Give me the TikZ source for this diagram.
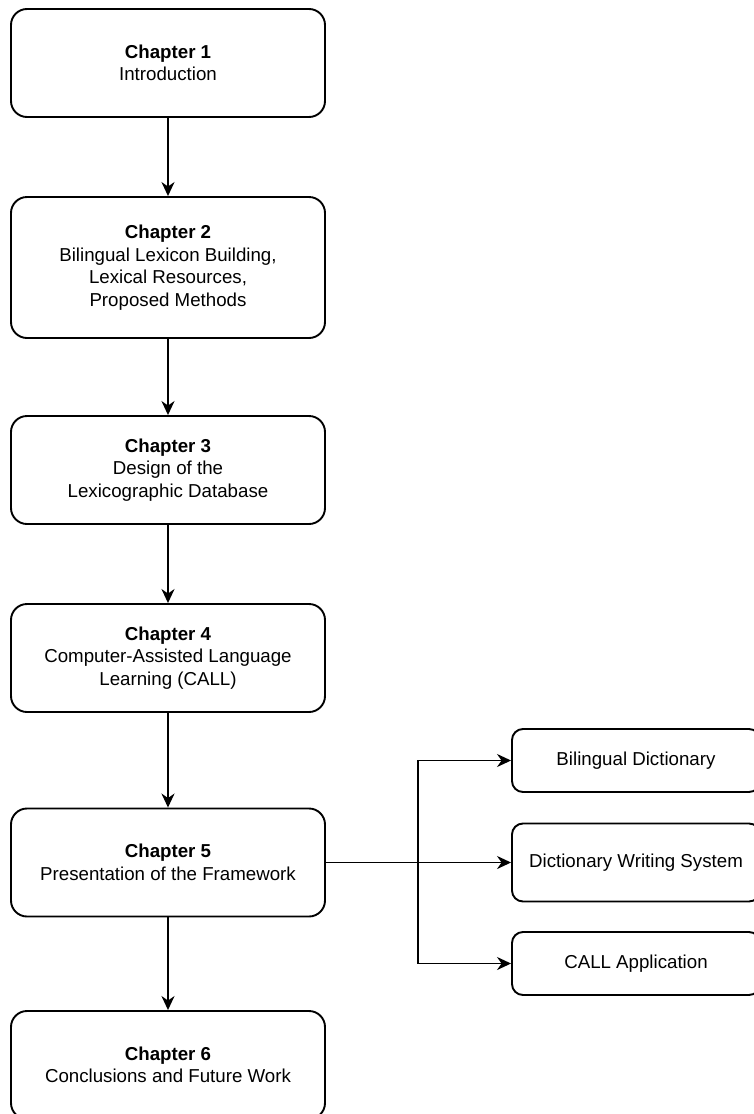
\documentclass[tikz,border=0pt]{standalone}
\usepackage{fontspec}
\setmainfont{Liberation Sans}
\usetikzlibrary{arrows.meta}
\begin{document}
\begin{tikzpicture}[x=1pt,y=1pt,
  chapbox/.style={draw=black, line width=1.9pt, rounded corners=16pt, fill=white,
    minimum width=314pt, inner sep=0pt, align=center,
    font=\fontsize{18.7pt}{22.6pt}\selectfont},
  outbox/.style={draw=black, line width=1.9pt, rounded corners=11pt, fill=white,
    minimum width=248pt, inner sep=0pt, align=center,
    font=\fontsize{18.7pt}{22.6pt}\selectfont},
  conn/.style={line width=1.9pt, -{Stealth[length=14pt,width=13pt,inset=4.5pt]}}
]
\useasboundingbox (0,0) rectangle (754,-1114);
\node[chapbox, minimum height=108pt] (c1) at (168,-63) {\textbf{Chapter 1}\\Introduction};
\node[chapbox, minimum height=141pt] (c2) at (168,-267.5) {\textbf{Chapter 2}\\Bilingual Lexicon Building,\\Lexical Resources,\\Proposed Methods};
\node[chapbox, minimum height=108pt] (c3) at (168,-470) {\textbf{Chapter 3}\\Design of the\\Lexicographic Database};
\node[chapbox, minimum height=108pt] (c4) at (168,-658) {\textbf{Chapter 4}\\Computer-Assisted Language\\Learning (CALL)};
\node[chapbox, minimum height=108pt] (c5) at (168,-862.5) {\textbf{Chapter 5}\\Presentation of the Framework};
\node[chapbox, minimum height=108pt] (c6) at (168,-1065) {\textbf{Chapter 6}\\Conclusions and Future Work};

\node[outbox, minimum height=63pt] (bd) at (636,-760.5) {Bilingual Dictionary};
\node[outbox, minimum height=78pt] (dws) at (636,-862.5) {Dictionary Writing System};
\node[outbox, minimum height=63pt] (ca) at (636,-963.5) {CALL Application};

\draw[conn] (c1) -- (c2);
\draw[conn] (c2) -- (c3);
\draw[conn] (c3) -- (c4);
\draw[conn] (c4) -- (c5);
\draw[conn] (c5) -- (c6);

\coordinate (br) at (418,-862.5);
\draw[conn] (c5.east) -- (br) |- (bd.west);
\draw[conn] (c5.east) -- (dws.west);
\draw[conn] (br) |- (ca.west);
\end{tikzpicture}
\end{document}
